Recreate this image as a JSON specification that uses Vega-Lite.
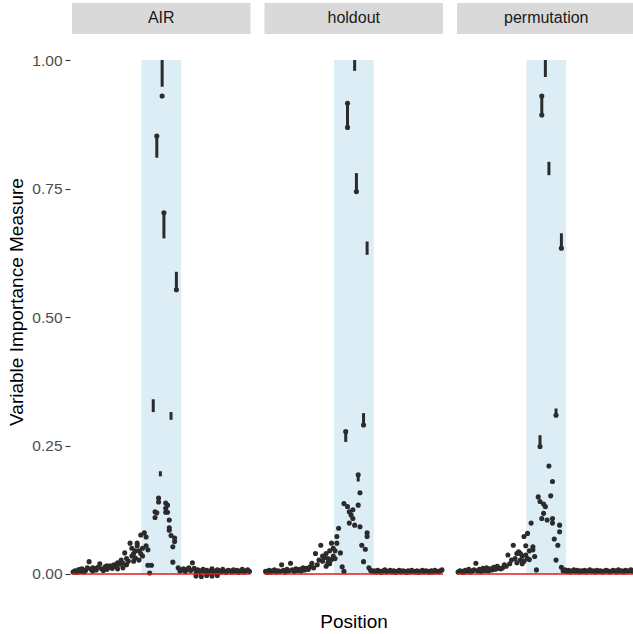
{
"$schema": "https://vega.github.io/schema/vega-lite/v6.json",
"padding": {"left": 7, "top": 3, "right": 1, "bottom": 2},
"background": "white",
"config": {"view": {"stroke": null}, "font": "Liberation Sans"},
"spacing": 10.5,
"data": {"values": [
{"m":"AIR","p":1,"v":0.004},{"m":"AIR","p":2,"v":0.006},{"m":"AIR","p":3,"v":0.003},{"m":"AIR","p":4,"v":0.008},{"m":"AIR","p":5,"v":0.005},{"m":"AIR","p":6,"v":0.01},{"m":"AIR","p":7,"v":0.004},{"m":"AIR","p":8,"v":0.007},{"m":"AIR","p":9,"v":0.012},{"m":"AIR","p":10,"v":0.024},
{"m":"AIR","p":11,"v":0.009},{"m":"AIR","p":12,"v":0.006},{"m":"AIR","p":13,"v":0.011},{"m":"AIR","p":14,"v":0.008},{"m":"AIR","p":15,"v":0.013},{"m":"AIR","p":16,"v":0.02},{"m":"AIR","p":17,"v":0.01},{"m":"AIR","p":18,"v":0.007},{"m":"AIR","p":19,"v":0.014},{"m":"AIR","p":20,"v":0.009},
{"m":"AIR","p":21,"v":0.012},{"m":"AIR","p":22,"v":0.016},{"m":"AIR","p":23,"v":0.011},{"m":"AIR","p":24,"v":0.018},{"m":"AIR","p":25,"v":0.015},{"m":"AIR","p":26,"v":0.022},{"m":"AIR","p":27,"v":0.019},{"m":"AIR","p":28,"v":0.027},{"m":"AIR","p":29,"v":0.021},{"m":"AIR","p":30,"v":0.041},
{"m":"AIR","p":31,"v":0.03},{"m":"AIR","p":32,"v":0.025},{"m":"AIR","p":33,"v":0.06},{"m":"AIR","p":34,"v":0.035},{"m":"AIR","p":35,"v":0.04},{"m":"AIR","p":36,"v":0.031},{"m":"AIR","p":37,"v":0.06},{"m":"AIR","p":38,"v":0.045},{"m":"AIR","p":39,"v":0.076},{"m":"AIR","p":40,"v":0.05},
{"m":"AIR","p":41,"v":0.08},{"m":"AIR","p":42,"v":0.072},{"m":"AIR","p":43,"v":0.047},{"m":"AIR","p":44,"v":0.002},{"m":"AIR","p":45,"v":0.017},{"m":"AIR","p":47,"v":0.121},{"m":"AIR","p":49,"v":0.148},{"m":"AIR","p":51,"v":0.93},{"m":"AIR","p":52,"v":0.703},{"m":"AIR","p":53,"v":0.138},
{"m":"AIR","p":54,"v":0.134},{"m":"AIR","p":55,"v":0.105},{"m":"AIR","p":56,"v":0.075},{"m":"AIR","p":57,"v":0.053},{"m":"AIR","p":58,"v":0.07},{"m":"AIR","p":59,"v":0.553},{"m":"AIR","p":60,"v":0.012},{"m":"AIR","p":61,"v":0.006},{"m":"AIR","p":62,"v":0.008},{"m":"AIR","p":63,"v":0.01},
{"m":"AIR","p":64,"v":0.005},{"m":"AIR","p":65,"v":0.009},{"m":"AIR","p":66,"v":0.012},{"m":"AIR","p":67,"v":0.007},{"m":"AIR","p":68,"v":0.022},{"m":"AIR","p":69,"v":0.011},{"m":"AIR","p":70,"v":0.004},{"m":"AIR","p":71,"v":0.008},{"m":"AIR","p":72,"v":0.003},{"m":"AIR","p":73,"v":0.006},
{"m":"AIR","p":74,"v":0.009},{"m":"AIR","p":75,"v":0.004},{"m":"AIR","p":76,"v":0.007},{"m":"AIR","p":77,"v":0.002},{"m":"AIR","p":78,"v":0.006},{"m":"AIR","p":79,"v":0.01},{"m":"AIR","p":80,"v":0.005},{"m":"AIR","p":81,"v":0.003},{"m":"AIR","p":82,"v":0.008},{"m":"AIR","p":83,"v":0.006},
{"m":"AIR","p":84,"v":0.004},{"m":"AIR","p":85,"v":0.009},{"m":"AIR","p":86,"v":0.005},{"m":"AIR","p":87,"v":0.003},{"m":"AIR","p":88,"v":0.007},{"m":"AIR","p":89,"v":0.006},{"m":"AIR","p":90,"v":0.004},{"m":"AIR","p":91,"v":0.008},{"m":"AIR","p":92,"v":0.005},{"m":"AIR","p":93,"v":0.007},
{"m":"AIR","p":94,"v":0.003},{"m":"AIR","p":95,"v":0.006},{"m":"AIR","p":96,"v":0.009},{"m":"AIR","p":97,"v":0.004},{"m":"AIR","p":98,"v":0.006},{"m":"AIR","p":99,"v":0.008},{"m":"AIR","p":100,"v":0.005},
{"m":"AIR","p":34,"v":0.05},{"m":"AIR","p":35,"v":0.025},{"m":"AIR","p":36,"v":0.045},{"m":"AIR","p":37,"v":0.055},{"m":"AIR","p":38,"v":0.027},{"m":"AIR","p":39,"v":0.04},{"m":"AIR","p":40,"v":0.035},{"m":"AIR","p":42,"v":0.055},{"m":"AIR","p":43,"v":0.017},{"m":"AIR","p":47,"v":0.11},
{"m":"AIR","p":48,"v":0.852},{"m":"AIR","p":48,"v":0.119},{"m":"AIR","p":49,"v":0.14},{"m":"AIR","p":53,"v":0.12},{"m":"AIR","p":53,"v":0.128},{"m":"AIR","p":54,"v":0.12},{"m":"AIR","p":55,"v":0.09},{"m":"AIR","p":55,"v":0.085},{"m":"AIR","p":57,"v":0.023},{"m":"AIR","p":58,"v":0.063},
{"m":"AIR","p":70,"v":-0.004},{"m":"AIR","p":73,"v":-0.005},{"m":"AIR","p":76,"v":-0.003},{"m":"AIR","p":79,"v":-0.004},{"m":"AIR","p":82,"v":-0.003},
{"m":"AIR","p":5,"v":0.009},{"m":"AIR","p":12,"v":0.012},{"m":"AIR","p":20,"v":0.016},{"m":"AIR","p":26,"v":0.01},{"m":"AIR","p":29,"v":0.012},{"m":"AIR","p":31,"v":0.018},
{"m":"AIR","p":46,"lo":0.315,"hi":0.34},{"m":"AIR","p":48,"lo":0.81,"hi":0.852},{"m":"AIR","p":50,"lo":0.19,"hi":0.2},{"m":"AIR","p":51,"lo":0.948,"hi":1.0},{"m":"AIR","p":52,"lo":0.653,"hi":0.703},{"m":"AIR","p":56,"lo":0.3,"hi":0.315},{"m":"AIR","p":59,"lo":0.553,"hi":0.588},

{"m":"holdout","p":1,"v":0.005},{"m":"holdout","p":2,"v":0.003},{"m":"holdout","p":3,"v":0.007},{"m":"holdout","p":4,"v":0.004},{"m":"holdout","p":5,"v":0.006},{"m":"holdout","p":6,"v":0.008},{"m":"holdout","p":7,"v":0.004},{"m":"holdout","p":8,"v":0.006},{"m":"holdout","p":9,"v":0.005},{"m":"holdout","p":10,"v":0.018},
{"m":"holdout","p":11,"v":0.007},{"m":"holdout","p":12,"v":0.004},{"m":"holdout","p":13,"v":0.009},{"m":"holdout","p":14,"v":0.006},{"m":"holdout","p":15,"v":0.021},{"m":"holdout","p":16,"v":0.008},{"m":"holdout","p":17,"v":0.005},{"m":"holdout","p":18,"v":0.01},{"m":"holdout","p":19,"v":0.007},{"m":"holdout","p":20,"v":0.009},
{"m":"holdout","p":21,"v":0.006},{"m":"holdout","p":22,"v":0.012},{"m":"holdout","p":23,"v":0.008},{"m":"holdout","p":24,"v":0.011},{"m":"holdout","p":25,"v":0.009},{"m":"holdout","p":26,"v":0.014},{"m":"holdout","p":27,"v":0.021},{"m":"holdout","p":28,"v":0.012},{"m":"holdout","p":29,"v":0.04},{"m":"holdout","p":30,"v":0.018},
{"m":"holdout","p":31,"v":0.027},{"m":"holdout","p":32,"v":0.056},{"m":"holdout","p":33,"v":0.025},{"m":"holdout","p":34,"v":0.032},{"m":"holdout","p":35,"v":0.04},{"m":"holdout","p":36,"v":0.03},{"m":"holdout","p":37,"v":0.045},{"m":"holdout","p":38,"v":0.06},{"m":"holdout","p":39,"v":0.035},{"m":"holdout","p":40,"v":0.03},
{"m":"holdout","p":41,"v":0.073},{"m":"holdout","p":42,"v":0.089},{"m":"holdout","p":43,"v":0.041},{"m":"holdout","p":44,"v":0.014},{"m":"holdout","p":45,"v":0.137},{"m":"holdout","p":46,"v":0.277},{"m":"holdout","p":47,"v":0.869},{"m":"holdout","p":48,"v":0.121},{"m":"holdout","p":49,"v":0.115},{"m":"holdout","p":50,"v":0.108},
{"m":"holdout","p":51,"v":0.095},{"m":"holdout","p":52,"v":0.744},{"m":"holdout","p":53,"v":0.193},{"m":"holdout","p":54,"v":0.158},{"m":"holdout","p":55,"v":0.056},{"m":"holdout","p":56,"v":0.29},{"m":"holdout","p":57,"v":0.048},{"m":"holdout","p":58,"v":0.08},{"m":"holdout","p":59,"v":0.012},{"m":"holdout","p":60,"v":0.007},
{"m":"holdout","p":61,"v":0.005},{"m":"holdout","p":62,"v":0.006},{"m":"holdout","p":63,"v":0.004},{"m":"holdout","p":64,"v":0.007},{"m":"holdout","p":65,"v":0.005},{"m":"holdout","p":66,"v":0.003},{"m":"holdout","p":67,"v":0.006},{"m":"holdout","p":68,"v":0.008},{"m":"holdout","p":69,"v":0.004},{"m":"holdout","p":70,"v":0.005},
{"m":"holdout","p":71,"v":0.007},{"m":"holdout","p":72,"v":0.004},{"m":"holdout","p":73,"v":0.006},{"m":"holdout","p":74,"v":0.003},{"m":"holdout","p":75,"v":0.005},{"m":"holdout","p":76,"v":0.007},{"m":"holdout","p":77,"v":0.004},{"m":"holdout","p":78,"v":0.006},{"m":"holdout","p":79,"v":0.005},{"m":"holdout","p":80,"v":0.003},
{"m":"holdout","p":81,"v":0.006},{"m":"holdout","p":82,"v":0.004},{"m":"holdout","p":83,"v":0.007},{"m":"holdout","p":84,"v":0.005},{"m":"holdout","p":85,"v":0.004},{"m":"holdout","p":86,"v":0.006},{"m":"holdout","p":87,"v":0.003},{"m":"holdout","p":88,"v":0.005},{"m":"holdout","p":89,"v":0.007},{"m":"holdout","p":90,"v":0.004},
{"m":"holdout","p":91,"v":0.006},{"m":"holdout","p":92,"v":0.005},{"m":"holdout","p":93,"v":0.003},{"m":"holdout","p":94,"v":0.006},{"m":"holdout","p":95,"v":0.004},{"m":"holdout","p":96,"v":0.007},{"m":"holdout","p":97,"v":0.005},{"m":"holdout","p":98,"v":0.004},{"m":"holdout","p":99,"v":0.006},{"m":"holdout","p":100,"v":0.008},
{"m":"holdout","p":45,"v":0.005},{"m":"holdout","p":47,"v":0.916},{"m":"holdout","p":47,"v":0.131},{"m":"holdout","p":48,"v":0.099},{"m":"holdout","p":50,"v":0.125},{"m":"holdout","p":53,"v":0.134},{"m":"holdout","p":54,"v":0.092},{"m":"holdout","p":56,"v":0.024},{"m":"holdout","p":58,"v":0.073},{"m":"holdout","p":41,"v":0.06},
{"m":"holdout","p":37,"v":0.02},{"m":"holdout","p":35,"v":0.015},{"m":"holdout","p":39,"v":0.05},{"m":"holdout","p":33,"v":0.035},{"m":"holdout","p":36,"v":0.022},{"m":"holdout","p":38,"v":0.028},{"m":"holdout","p":40,"v":0.045},
{"m":"holdout","p":46,"lo":0.257,"hi":0.277},{"m":"holdout","p":47,"lo":0.869,"hi":0.916},{"m":"holdout","p":51,"lo":0.979,"hi":1.0},{"m":"holdout","p":52,"lo":0.744,"hi":0.78},{"m":"holdout","p":53,"lo":0.18,"hi":0.193},{"m":"holdout","p":56,"lo":0.29,"hi":0.313},{"m":"holdout","p":58,"lo":0.621,"hi":0.647},

{"m":"permutation","p":1,"v":0.004},{"m":"permutation","p":2,"v":0.006},{"m":"permutation","p":3,"v":0.005},{"m":"permutation","p":4,"v":0.003},{"m":"permutation","p":5,"v":0.007},{"m":"permutation","p":6,"v":0.005},{"m":"permutation","p":7,"v":0.009},{"m":"permutation","p":8,"v":0.004},{"m":"permutation","p":9,"v":0.006},{"m":"permutation","p":10,"v":0.008},
{"m":"permutation","p":11,"v":0.021},{"m":"permutation","p":12,"v":0.006},{"m":"permutation","p":13,"v":0.009},{"m":"permutation","p":14,"v":0.005},{"m":"permutation","p":15,"v":0.011},{"m":"permutation","p":16,"v":0.007},{"m":"permutation","p":17,"v":0.012},{"m":"permutation","p":18,"v":0.006},{"m":"permutation","p":19,"v":0.01},{"m":"permutation","p":20,"v":0.008},
{"m":"permutation","p":21,"v":0.013},{"m":"permutation","p":22,"v":0.009},{"m":"permutation","p":23,"v":0.015},{"m":"permutation","p":24,"v":0.011},{"m":"permutation","p":25,"v":0.01},{"m":"permutation","p":26,"v":0.012},{"m":"permutation","p":27,"v":0.018},{"m":"permutation","p":28,"v":0.015},{"m":"permutation","p":29,"v":0.037},{"m":"permutation","p":30,"v":0.02},
{"m":"permutation","p":31,"v":0.027},{"m":"permutation","p":32,"v":0.056},{"m":"permutation","p":33,"v":0.03},{"m":"permutation","p":34,"v":0.022},{"m":"permutation","p":35,"v":0.043},{"m":"permutation","p":36,"v":0.027},{"m":"permutation","p":37,"v":0.035},{"m":"permutation","p":38,"v":0.073},{"m":"permutation","p":39,"v":0.037},{"m":"permutation","p":40,"v":0.079},
{"m":"permutation","p":41,"v":0.045},{"m":"permutation","p":42,"v":0.099},{"m":"permutation","p":43,"v":0.053},{"m":"permutation","p":44,"v":0.034},{"m":"permutation","p":45,"v":0.008},{"m":"permutation","p":46,"v":0.15},{"m":"permutation","p":47,"v":0.248},{"m":"permutation","p":48,"v":0.93},{"m":"permutation","p":49,"v":0.136},{"m":"permutation","p":50,"v":0.131},
{"m":"permutation","p":51,"v":0.105},{"m":"permutation","p":52,"v":0.21},{"m":"permutation","p":53,"v":0.152},{"m":"permutation","p":54,"v":0.18},{"m":"permutation","p":55,"v":0.068},{"m":"permutation","p":56,"v":0.309},{"m":"permutation","p":57,"v":0.056},{"m":"permutation","p":58,"v":0.095},{"m":"permutation","p":59,"v":0.634},{"m":"permutation","p":60,"v":0.006},
{"m":"permutation","p":61,"v":0.008},{"m":"permutation","p":62,"v":0.005},{"m":"permutation","p":63,"v":0.007},{"m":"permutation","p":64,"v":0.004},{"m":"permutation","p":65,"v":0.006},{"m":"permutation","p":66,"v":0.008},{"m":"permutation","p":67,"v":0.005},{"m":"permutation","p":68,"v":0.007},{"m":"permutation","p":69,"v":0.004},{"m":"permutation","p":70,"v":0.006},
{"m":"permutation","p":71,"v":0.005},{"m":"permutation","p":72,"v":0.007},{"m":"permutation","p":73,"v":0.004},{"m":"permutation","p":74,"v":0.006},{"m":"permutation","p":75,"v":0.008},{"m":"permutation","p":76,"v":0.005},{"m":"permutation","p":77,"v":0.006},{"m":"permutation","p":78,"v":0.004},{"m":"permutation","p":79,"v":0.007},{"m":"permutation","p":80,"v":0.005},
{"m":"permutation","p":81,"v":0.006},{"m":"permutation","p":82,"v":0.004},{"m":"permutation","p":83,"v":0.005},{"m":"permutation","p":84,"v":0.007},{"m":"permutation","p":85,"v":0.006},{"m":"permutation","p":86,"v":0.004},{"m":"permutation","p":87,"v":0.005},{"m":"permutation","p":88,"v":0.007},{"m":"permutation","p":89,"v":0.006},{"m":"permutation","p":90,"v":0.004},
{"m":"permutation","p":91,"v":0.008},{"m":"permutation","p":92,"v":0.005},{"m":"permutation","p":93,"v":0.006},{"m":"permutation","p":94,"v":0.004},{"m":"permutation","p":95,"v":0.007},{"m":"permutation","p":96,"v":0.005},{"m":"permutation","p":97,"v":0.006},{"m":"permutation","p":98,"v":0.008},{"m":"permutation","p":99,"v":0.005},{"m":"permutation","p":100,"v":0.007},
{"m":"permutation","p":47,"v":0.141},{"m":"permutation","p":48,"v":0.893},{"m":"permutation","p":48,"v":0.108},{"m":"permutation","p":49,"v":0.118},{"m":"permutation","p":54,"v":0.108},{"m":"permutation","p":54,"v":0.099},{"m":"permutation","p":56,"v":0.027},{"m":"permutation","p":58,"v":0.082},{"m":"permutation","p":59,"v":0.013},{"m":"permutation","p":43,"v":0.047},
{"m":"permutation","p":38,"v":0.025},{"m":"permutation","p":36,"v":0.04},{"m":"permutation","p":40,"v":0.03},{"m":"permutation","p":34,"v":0.04},{"m":"permutation","p":37,"v":0.02},{"m":"permutation","p":39,"v":0.055},{"m":"permutation","p":41,"v":0.028},
{"m":"permutation","p":47,"lo":0.248,"hi":0.27},{"m":"permutation","p":48,"lo":0.893,"hi":0.93},{"m":"permutation","p":50,"lo":0.967,"hi":1.0},{"m":"permutation","p":52,"lo":0.776,"hi":0.802},{"m":"permutation","p":56,"lo":0.309,"hi":0.322},{"m":"permutation","p":59,"lo":0.634,"hi":0.663}
]},
"facet": {"column": {"field": "m", "type": "nominal", "sort": ["AIR", "holdout", "permutation"], "header": {"labels": false, "title": "Position", "titleOrient": "bottom", "titleFontSize": 19, "titleFontWeight": "normal", "titleColor": "#000000", "titlePadding": 3}}},
"spec": {
 "width": 178.5,
 "height": 597,
 "layer": [
  {
   "transform": [{"aggregate": [{"op": "count", "as": "n"}], "groupby": ["m"]}],
   "mark": {"type": "rect", "color": "#dcedf6"},
   "encoding": {
    "x": {"datum": 39.4, "type": "quantitative", "axis": null,
          "scale": {"domain": [0.4, 100.6], "nice": false, "zero": false}},
    "x2": {"datum": 61.7},
    "y": {"datum": 0, "type": "quantitative", "title": "Variable Importance Measure",
          "scale": {"domain": [-0.0506, 1.111], "nice": false, "zero": false},
          "axis": {"values": [0, 0.25, 0.5, 0.75, 1], "format": ".2f", "grid": false, "domain": false, "tickSize": 5, "tickColor": "#333333", "tickWidth": 1.1, "labelColor": "#4d4d4d", "labelFontSize": 15.5, "labelPadding": 3, "titleFontSize": 19, "titleFontWeight": "normal", "titleColor": "#000000", "titlePadding": 5}},
    "y2": {"datum": 1}
   }
  },
  {
   "transform": [{"aggregate": [{"op": "count", "as": "n"}], "groupby": ["m"]}],
   "mark": {"type": "rect", "color": "#d9d9d9"},
   "encoding": {
    "x": {"datum": 0.4, "type": "quantitative", "axis": null},
    "x2": {"datum": 100.6},
    "y": {"datum": 1.0506, "type": "quantitative", "title": "Variable Importance Measure"},
    "y2": {"datum": 1.111}
   }
  },
  {
   "transform": [{"aggregate": [{"op": "count", "as": "n"}], "groupby": ["m"]}],
   "mark": {"type": "text", "fontSize": 16, "color": "#1a1a1a", "align": "center", "baseline": "middle"},
   "encoding": {
    "x": {"datum": 50.5, "type": "quantitative", "axis": null},
    "y": {"datum": 1.081, "type": "quantitative", "title": "Variable Importance Measure"},
    "text": {"field": "m", "type": "nominal"}
   }
  },
  {
   "transform": [{"filter": "isValid(datum.lo)"}],
   "mark": {"type": "rule", "color": "#2b2b2b", "strokeWidth": 3},
   "encoding": {
    "x": {"field": "p", "type": "quantitative", "axis": null},
    "y": {"field": "lo", "type": "quantitative", "title": "Variable Importance Measure"},
    "y2": {"field": "hi"}
   }
  },
  {
   "transform": [{"filter": "isValid(datum.v)"}],
   "mark": {"type": "circle", "color": "#2b2b2b", "size": 26, "opacity": 1},
   "encoding": {
    "x": {"field": "p", "type": "quantitative", "axis": null},
    "y": {"field": "v", "type": "quantitative", "title": "Variable Importance Measure"}
   }
  },
  {
   "transform": [{"aggregate": [{"op": "count", "as": "n"}], "groupby": ["m"]}],
   "mark": {"type": "rule", "color": "#e41a1c", "strokeWidth": 1.3},
   "encoding": {
    "x": {"datum": 0.4, "type": "quantitative", "axis": null},
    "x2": {"datum": 100.6},
    "y": {"datum": 0, "type": "quantitative", "title": "Variable Importance Measure"}
   }
  }
 ]
}
}
